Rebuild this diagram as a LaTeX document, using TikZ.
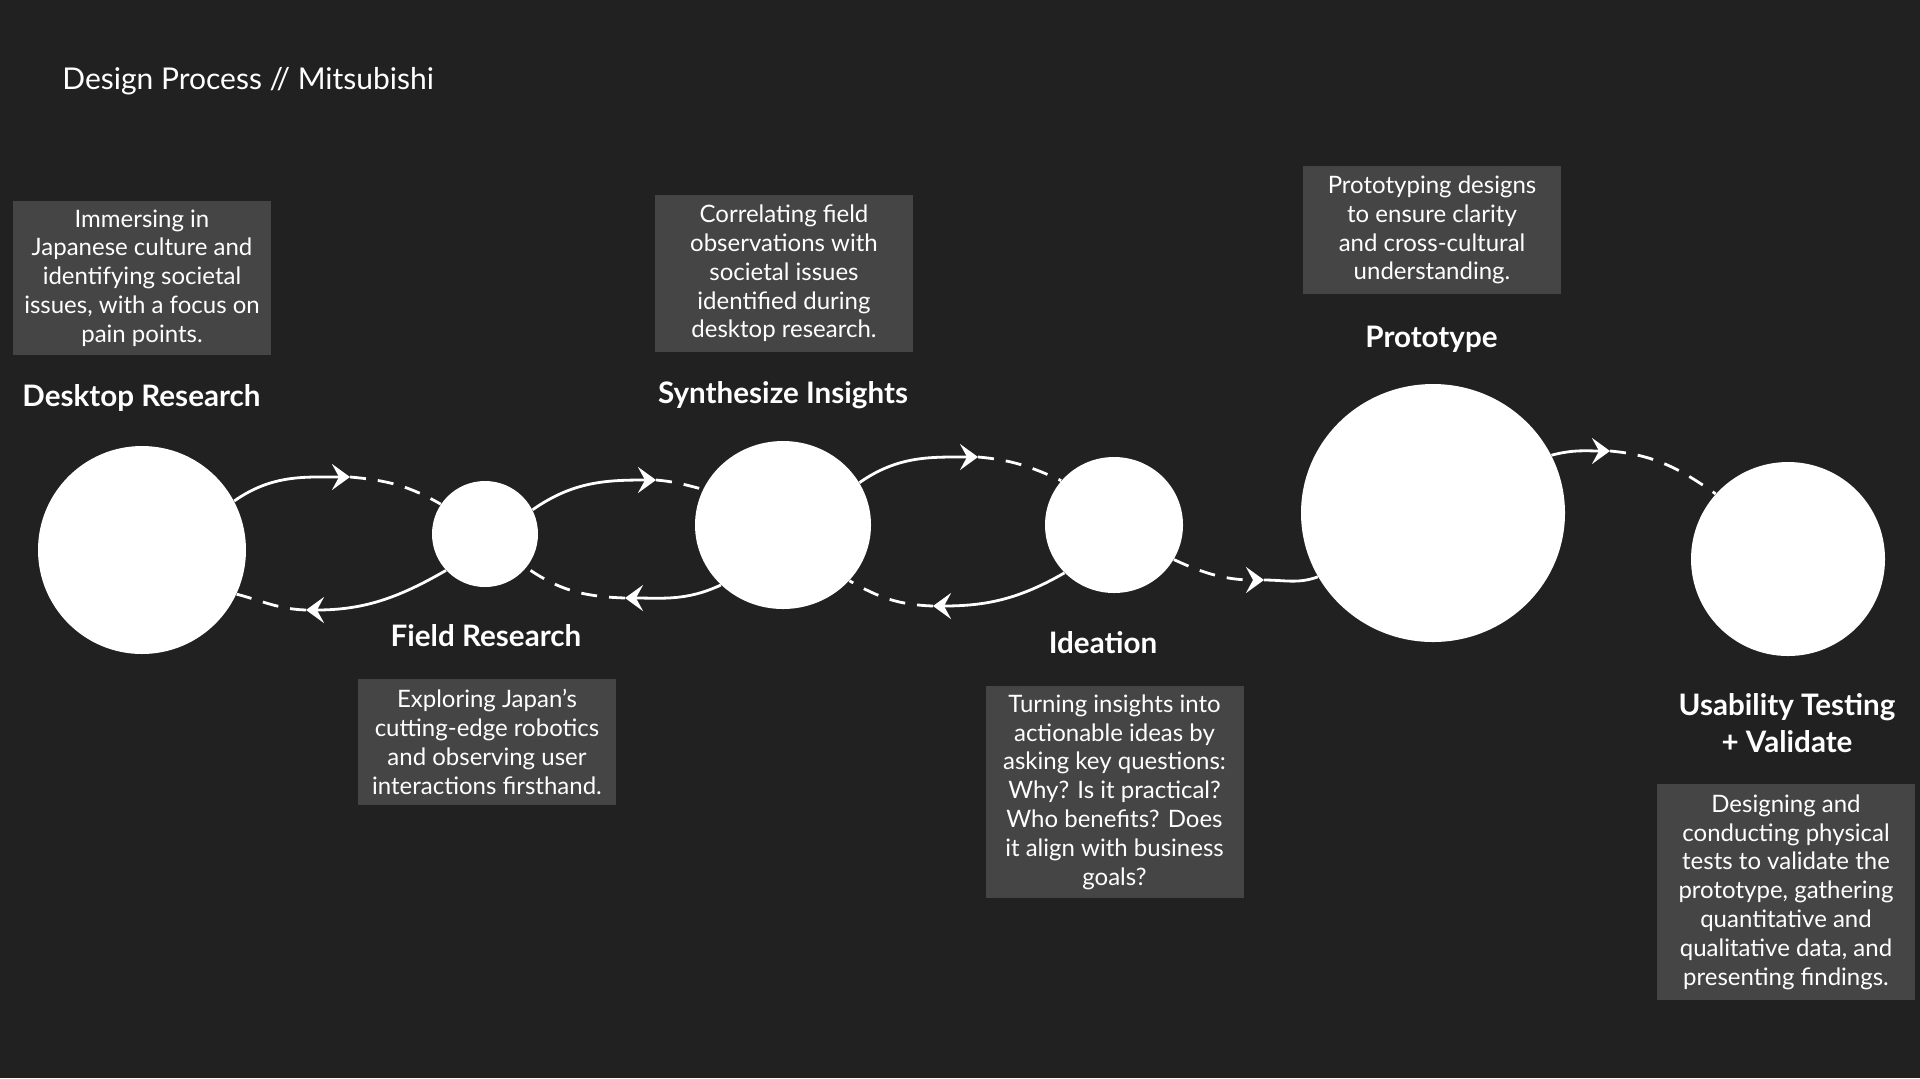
\documentclass[tikz,border=0pt]{standalone}
\usepackage{fontspec}
\setmainfont{Lato}
\usepackage{tikz}
\usetikzlibrary{arrows.meta,shapes.geometric}
\definecolor{bgdark}{HTML}{212121}
\definecolor{boxgrey}{HTML}{454545}

\begin{document}
\begin{tikzpicture}[x=0.5pt, y=-0.5pt,
    phase/.style={ellipse, draw=none, fill=white, inner sep=0pt},
    phasenote/.style={rectangle, draw=none, fill=boxgrey, text=white, align=center,
        minimum width=129pt, inner sep=0pt, font=\fontsize{12}{14.4}\selectfont},
    phasetitle/.style={text=white, align=center, anchor=base, inner sep=0pt,
        font=\bfseries\fontsize{14.8}{18.5}\selectfont},
    wire/.style={white, line width=1.4pt},
    tipped/.style={-{Stealth[length=9pt, width=13pt, inset=3.5pt]}},
    gap/.style={dash pattern=on 8pt off 6pt}
]
\path[use as bounding box, fill=bgdark] (0,0) rectangle (1920,1078);

\node (Title) [anchor=base west, text=white, inner sep=0pt,
    font=\fontsize{15}{17}\selectfont] at (62,89) {Design Process // Mitsubishi};

\node (Stage01) [phase, minimum width=104pt, minimum height=104pt] at (142,550) {};
\node (Stage02) [phase, minimum width=53pt, minimum height=53pt] at (485,534) {};
\node (Stage03) [phase, minimum width=88pt, minimum height=84pt] at (783,525) {};
\node (Stage04) [phase, minimum width=69pt, minimum height=68pt] at (1114,525) {};
\node (Stage05) [phase, minimum width=132pt, minimum height=129pt] at (1433,513) {};
\node (Stage06) [phase, minimum width=97pt, minimum height=97pt] at (1788,559) {};

\node (Name01) [phasetitle] at (141.5,406.7) {Desktop Research};
\node (Name02) [phasetitle] at (486,646) {Field Research};
\node (Name03) [phasetitle] at (783,403) {Synthesize Insights};
\node (Name04) [phasetitle] at (1103,653) {Ideation};
\node (Name05) [phasetitle] at (1431.5,347) {Prototype};
\node (Name06) [phasetitle] at (1787,752) {Usability Testing\\+ Validate};

\node (Note01) [phasenote, minimum height=77pt] at (142,278)
    {Immersing in\\Japanese culture and\\identifying societal\\issues, with a focus on\\pain points.};
\node (Note02) [phasenote, minimum height=63pt] at (487,742)
    {Exploring Japan’s\\cutting-edge robotics\\and observing user\\interactions firsthand.};
\node (Note03) [phasenote, minimum height=78.5pt] at (784,273.5)
    {Correlating field\\observations with\\societal issues\\identified during\\desktop research.};
\node (Note04) [phasenote, minimum height=106pt] at (1114.5,792)
    {Turning insights into\\actionable ideas by\\asking key questions:\\Why? Is it practical?\\Who benefits? Does\\it align with business\\goals?};
\node (Note05) [phasenote, minimum height=64pt] at (1432,230)
    {Prototyping designs\\to ensure clarity\\and cross-cultural\\understanding.};
\node (Note06) [phasenote, minimum height=108pt] at (1786,892)
    {Designing and\\conducting physical\\tests to validate the\\prototype, gathering\\quantitative and\\qualitative data, and\\presenting findings.};

\coordinate (Tip12) at (350,477);
\coordinate (Tip21) at (306,610);
\coordinate (Tip23) at (656,480);
\coordinate (Tip32) at (625,598);
\coordinate (Tip34) at (978,457);
\coordinate (Tip43) at (933,606);
\coordinate (Tip45) at (1264,580);
\coordinate (Tip56) at (1610,451);

\draw[wire, tipped] (Stage01.28) to[out=35, in=180] (Tip12);
\draw[wire, gap] (Tip12) to[out=-5, in=150] (Stage02.146);
\draw[wire, tipped] (Stage02.223) to[out=210, in=0] (Tip21);
\draw[wire, gap] (Tip21) to[out=178, in=-15] (Stage01.-25);

\draw[wire, tipped] (Stage02.27) to[out=35, in=180] (Tip23);
\draw[wire, gap] (Tip23) to[out=-5, in=165] (Stage03.156);
\draw[wire, tipped] (Stage03.224) to[out=205, in=0] (Tip32);
\draw[wire, gap] (Tip32) to[out=178, in=-35] (Stage02.-39);

\draw[wire, tipped] (Stage03.29) to[out=35, in=180] (Tip34);
\draw[wire, gap] (Tip34) to[out=-5, in=155] (Stage04.140);
\draw[wire, tipped] (Stage04.224) to[out=210, in=0] (Tip43);
\draw[wire, gap] (Tip43) to[out=178, in=-30] (Stage03.-40);

\draw[wire, gap, tipped] (Stage04.-30) to[out=-25, in=180] (Tip45);
\draw[wire] (Tip45) to[out=0, in=200] (Stage05.209);
\draw[wire, tipped] (Stage05.26) to[out=15, in=180] (Tip56);
\draw[wire, gap] (Tip56) to[out=-5, in=145] (Stage06.138);
\end{tikzpicture}
\end{document}
